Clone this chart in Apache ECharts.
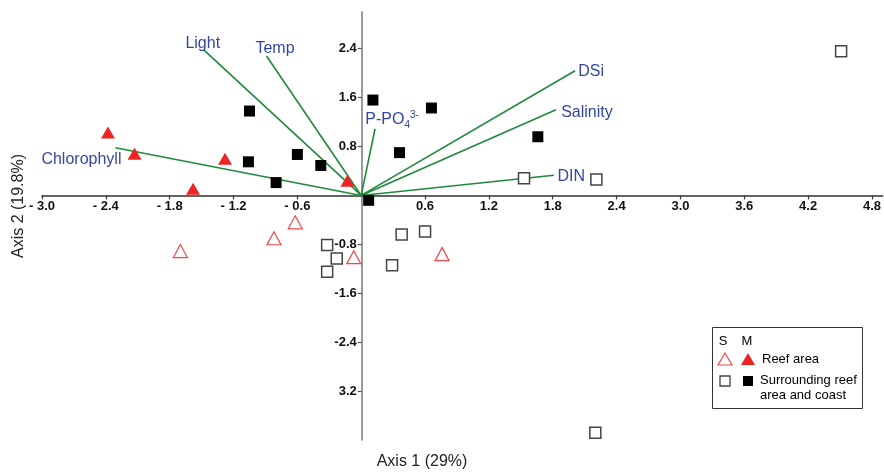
<!DOCTYPE html>
<html>
<head>
<meta charset="utf-8">
<script src="https://cdn.jsdelivr.net/npm/echarts@6/dist/echarts.min.js"></script>
<style>
html,body{margin:0;padding:0;background:#fff;}
#chart{width:884px;height:472px;}
</style>
</head>
<body>
<div id="chart"></div>
<script>
// ---- data ----
const reefS = [[-0.62,-0.44],[-0.82,-0.70],[-1.70,-0.91],[-0.07,-1.01],[0.76,-0.96]];
const reefM = [[-2.38,1.03],[-2.13,0.68],[-1.28,0.60],[-1.58,0.11],[-0.13,0.24]];
const surrS = [[4.51,2.36],[1.53,0.28],[2.21,0.26],[-0.32,-0.81],[-0.23,-1.03],[-0.32,-1.25],[0.38,-0.64],[0.60,-0.59],[0.29,-1.14],[2.20,-3.88]];
const surrM = [[-1.05,1.38],[-1.06,0.55],[-0.60,0.67],[-0.38,0.49],[-0.80,0.21],[0.11,1.56],[0.66,1.43],[0.36,0.70],[0.07,-0.08],[1.66,0.96]];
const vectorNames = ['Light','Temp','Chlorophyll','P-PO4 3-','DSi','Salinity','DIN'];
const vectorX = [-1.48,-0.89,-2.31,0.13,2.01,1.83,1.81];
const vectorY = [2.38,2.28,0.78,1.09,2.04,1.40,0.33];
const xTickValues = [-3.0,-2.4,-1.8,-1.2,-0.6,0.6,1.2,1.8,2.4,3.0,3.6,4.2,4.8];
const xTickLabels = ['- 3.0','- 2.4','- 1.8','- 1.2','- 0.6','0.6','1.2','1.8','2.4','3.0','3.6','4.2','4.8'];
const yTickValues = [2.4,1.6,0.8,-0.8,-1.6,-2.4,-3.2];
const yTickLabels = ['2.4','1.6','0.8','-0.8','-1.6','-2.4','3.2'];
const xTitle = 'Axis 1 (29%)';
const yTitle = 'Axis 2 (19.8%)';

// ---- layout / styling ----
const GRID = {left:42, right:0, top:12, bottom:32, W:884, H:472};
const X_MIN = -3.0, X_MAX = 4.9, Y_MIN = -4.0, Y_MAX = 3.0;
const gridW = GRID.W - GRID.left - GRID.right;
const gridH = GRID.H - GRID.top - GRID.bottom;
// shift axes so they cross at the origin (value 0)
const xAxisOffset = -((0 - Y_MIN) / (Y_MAX - Y_MIN)) * gridH;
const yAxisOffset = -((0 - X_MIN) / (X_MAX - X_MIN)) * gridW;

const labelOffsets = {
  'Light':[-1,-6.5], 'Temp':[8.5,-7], 'Chlorophyll':[-34,12], 'P-PO4 3-':[17,-9],
  'DSi':[16,1], 'Salinity':[31,3], 'DIN':[17.5,1]
};
const FONT = 'Liberation Sans, Arial, sans-serif';
const GREEN = '#1f8a3b';
const BLUE = '#3446a6';
const RED = '#ec2424';
const RED_OPEN = '#f04848';

function lookup(vals, labs, v){
  for (let i=0;i<vals.length;i++){ if (Math.abs(vals[i]-v)<1e-6) return labs[i]; }
  return '';
}

const vectorSeries = vectorNames.map((n,i)=>({
  type:'line', name:n, data:[[0,0],[vectorX[i],vectorY[i]]],
  symbol:'none', lineStyle:{color:GREEN,width:1.6}, z:1, silent:true
}));

const labelData = vectorNames.map((n,i)=>{
  const isP = n==='P-PO4 3-';
  return {
    value:[vectorX[i],vectorY[i]],
    label:{
      show:true, position:'inside', offset:labelOffsets[n],
      formatter: isP ? '{a|P-PO}{sub|4}{sup|3-}' : n,
      color:BLUE, fontSize:16, fontFamily:FONT, textBorderWidth:0, opacity:1,
      rich: isP ? {
        a:{fontSize:16,color:BLUE,fontFamily:FONT,lineHeight:24,verticalAlign:'middle'},
        sub:{fontSize:10,color:BLUE,fontFamily:FONT,lineHeight:24,verticalAlign:'bottom',padding:[0,0,2,0]},
        sup:{fontSize:10,color:BLUE,fontFamily:FONT,lineHeight:24,verticalAlign:'top',padding:[2,0,0,0]}
      } : undefined
    }
  };
});

const tickFont = {fontSize:13,fontWeight:'bold',color:'#111',fontFamily:FONT};

const option = {
  animation:false,
  backgroundColor:'#fff',
  grid:{left:GRID.left,right:GRID.right,top:GRID.top,bottom:GRID.bottom,containLabel:false},
  xAxis:{
    type:'value', min:X_MIN, max:X_MAX, position:'bottom', offset:xAxisOffset,
    axisLine:{onZero:false,lineStyle:{color:'#333',width:1.5}},
    axisTick:{show:true,length:4,customValues:xTickValues,lineStyle:{color:'#333',width:1.2}},
    axisLabel:Object.assign({margin:4,customValues:xTickValues,
      formatter:v=>lookup(xTickValues,xTickLabels,v)},tickFont),
    splitLine:{show:false}
  },
  yAxis:{
    type:'value', min:Y_MIN, max:Y_MAX, position:'left', offset:yAxisOffset,
    axisLine:{onZero:false,lineStyle:{color:'#777',width:1.5}},
    axisTick:{show:true,length:4,customValues:yTickValues,lineStyle:{color:'#555',width:1.2}},
    axisLabel:Object.assign({margin:5,customValues:yTickValues,
      formatter:v=>lookup(yTickValues,yTickLabels,v)},tickFont),
    splitLine:{show:false}
  },
  series: vectorSeries.concat([
    {type:'scatter', name:'vectorLabels', data:labelData, symbolSize:0, z:5, silent:true,
      itemStyle:{opacity:1,color:BLUE}},
    {type:'scatter', name:'Reef area S', data:reefS, symbol:'triangle', symbolSize:[14,13],
      itemStyle:{color:'#fff',borderColor:RED_OPEN,borderWidth:1.2,opacity:1}, z:3},
    {type:'scatter', name:'Reef area M', data:reefM, symbol:'triangle', symbolSize:[14,12],
      itemStyle:{color:RED,opacity:1}, z:3},
    {type:'scatter', name:'Surrounding S', data:surrS, symbol:'rect', symbolSize:11,
      itemStyle:{color:'#fff',borderColor:'#444',borderWidth:1.5,opacity:1}, z:3},
    {type:'scatter', name:'Surrounding M', data:surrM, symbol:'rect', symbolSize:11,
      itemStyle:{color:'#000',opacity:1}, z:3}
  ]),
  graphic:[
    {type:'text', x:422, y:462, style:{text:xTitle,fontSize:16,fill:'#222',fontFamily:FONT,align:'center',verticalAlign:'middle'}, z:10},
    {type:'text', x:19, y:206, rotation:Math.PI/2, style:{text:yTitle,fontSize:16,fill:'#222',fontFamily:FONT,align:'center',verticalAlign:'middle'}, z:10},
    // legend box
    {type:'rect', shape:{x:712.5,y:327.5,width:150,height:81}, style:{fill:'#fff',stroke:'#333',lineWidth:1}, z:20},
    {type:'text', x:723, y:341, style:{text:'S',fontSize:13,fill:'#000',fontFamily:FONT,align:'center',verticalAlign:'middle'}, z:21},
    {type:'text', x:747, y:341, style:{text:'M',fontSize:13,fill:'#000',fontFamily:FONT,align:'center',verticalAlign:'middle'}, z:21},
    {type:'polygon', shape:{points:[[725,353],[718,365],[732,365]]}, style:{fill:'#fff',stroke:RED_OPEN,lineWidth:1.2}, z:21},
    {type:'polygon', shape:{points:[[748,353],[741,365],[755,365]]}, style:{fill:RED}, z:21},
    {type:'text', x:762, y:359, style:{text:'Reef area',fontSize:13,fill:'#000',fontFamily:FONT,align:'left',verticalAlign:'middle'}, z:21},
    {type:'rect', shape:{x:720,y:376,width:10,height:10}, style:{fill:'#fff',stroke:'#444',lineWidth:1.3}, z:21},
    {type:'rect', shape:{x:743,y:376,width:10,height:10}, style:{fill:'#000'}, z:21},
    {type:'text', x:760, y:380, style:{text:'Surrounding reef',fontSize:13,fill:'#000',fontFamily:FONT,align:'left',verticalAlign:'middle'}, z:21},
    {type:'text', x:760, y:395, style:{text:'area and coast',fontSize:13,fill:'#000',fontFamily:FONT,align:'left',verticalAlign:'middle'}, z:21}
  ]
};

const chart = echarts.init(document.getElementById('chart'), null, {renderer:'canvas'});
chart.setOption(option);
</script>
</body>
</html>
